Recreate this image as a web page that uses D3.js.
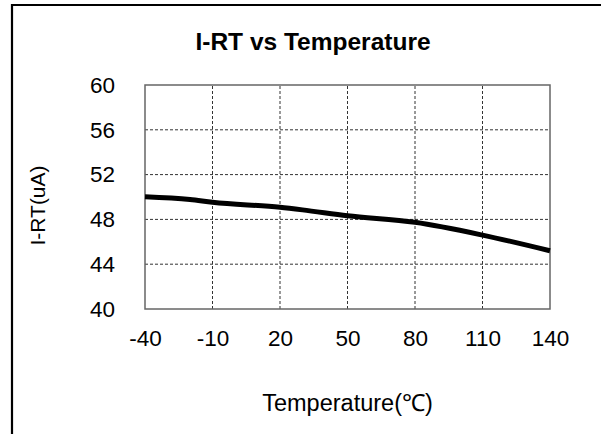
<!DOCTYPE html>
<html>
<head>
<meta charset="utf-8">
<script src="https://cdn.jsdelivr.net/npm/d3@7"></script>
<style>
  html, body { margin: 0; padding: 0; background: #fff; }
  svg { display: block; }
  text { font-family: Arial, "Liberation Sans", sans-serif; fill: #000; }
</style>
</head>
<body>
<script>
const temps = [-40, -20, -10, 20, 30, 50, 80, 110, 140];
const iRT   = [50.03, 49.78, 49.53, 49.08, 48.85, 48.33, 47.74, 46.6, 45.2];
const xTicks = [-40, -10, 20, 50, 80, 110, 140];
const yTicks = [40, 44, 48, 52, 56, 60];
const titleText = "I-RT vs Temperature";
const xTitle = "Temperature(℃)";
const yTitle = "I-RT(uA)";

const W = 601, H = 434;
const m = { left: 145, right: 51, top: 85, bottom: 125 };
const FONT = "Arial, 'Liberation Sans', sans-serif";

const svg = d3.select("body").append("svg").attr("width", W).attr("height", H);

// outer frame (extends beyond right/bottom)
svg.append("path")
  .attr("d", `M12,${H + 5} L12,5 L${W + 5},5`)
  .attr("fill", "none").attr("stroke", "#000").attr("stroke-width", 2.2);

const x = d3.scaleLinear().domain([-40, 140]).range([m.left, W - m.right]);
const y = d3.scaleLinear().domain([40, 60]).range([H - m.bottom, m.top]);

// grid
const g = svg.append("g");
g.selectAll(".vg").data(xTicks.slice(1, -1)).join("line")
  .attr("x1", d => x(d)).attr("x2", d => x(d))
  .attr("y1", y(40)).attr("y2", y(60))
  .attr("stroke", "#333").attr("stroke-width", 1).attr("stroke-dasharray", "3,2");
g.selectAll(".hg").data(yTicks.slice(1, -1)).join("line")
  .attr("y1", d => y(d)).attr("y2", d => y(d))
  .attr("x1", x(-40)).attr("x2", x(140))
  .attr("stroke", "#333").attr("stroke-width", 1).attr("stroke-dasharray", "3,2");

// axes labels via d3 axes (no tick lines)
const xAxis = svg.append("g").attr("transform", `translate(0,${y(40)})`)
  .call(d3.axisBottom(x).tickValues(xTicks).tickSize(0).tickPadding(21).tickFormat(d => String(d)));
xAxis.select(".domain").remove();
xAxis.selectAll("text").attr("font-size", 22.5).attr("font-family", FONT).attr("fill", "#000");

const yAxis = svg.append("g").attr("transform", `translate(${x(-40)},0)`)
  .call(d3.axisLeft(y).tickValues(yTicks).tickSize(0).tickPadding(30).tickFormat(d => String(d)));
yAxis.select(".domain").remove();
yAxis.selectAll("text").attr("font-size", 22.5).attr("font-family", FONT).attr("fill", "#000");

// plot border
svg.append("rect")
  .attr("x", x(-40)).attr("y", y(60))
  .attr("width", x(140) - x(-40)).attr("height", y(40) - y(60))
  .attr("fill", "none").attr("stroke", "#666").attr("stroke-width", 1.5);

// data line
const data = temps.map((t, i) => ({ t, v: iRT[i] }));
svg.append("path").datum(data)
  .attr("d", d3.line().x(d => x(d.t)).y(d => y(d.v)).curve(d3.curveMonotoneX))
  .attr("fill", "none").attr("stroke", "#000").attr("stroke-width", 5)
  .attr("stroke-linejoin", "round");

// titles
svg.append("text").attr("x", 313).attr("y", 49.5).attr("text-anchor", "middle")
  .attr("font-size", 24.5).attr("font-weight", "bold").text(titleText);
svg.append("text").attr("x", (x(-40) + x(140)) / 2).attr("y", 411).attr("text-anchor", "middle")
  .attr("font-size", 23.5).text(xTitle);
svg.append("text").attr("transform", `translate(45,205.5) rotate(-90)`).attr("text-anchor", "middle")
  .attr("font-size", 21).text(yTitle);
</script>
</body>
</html>
